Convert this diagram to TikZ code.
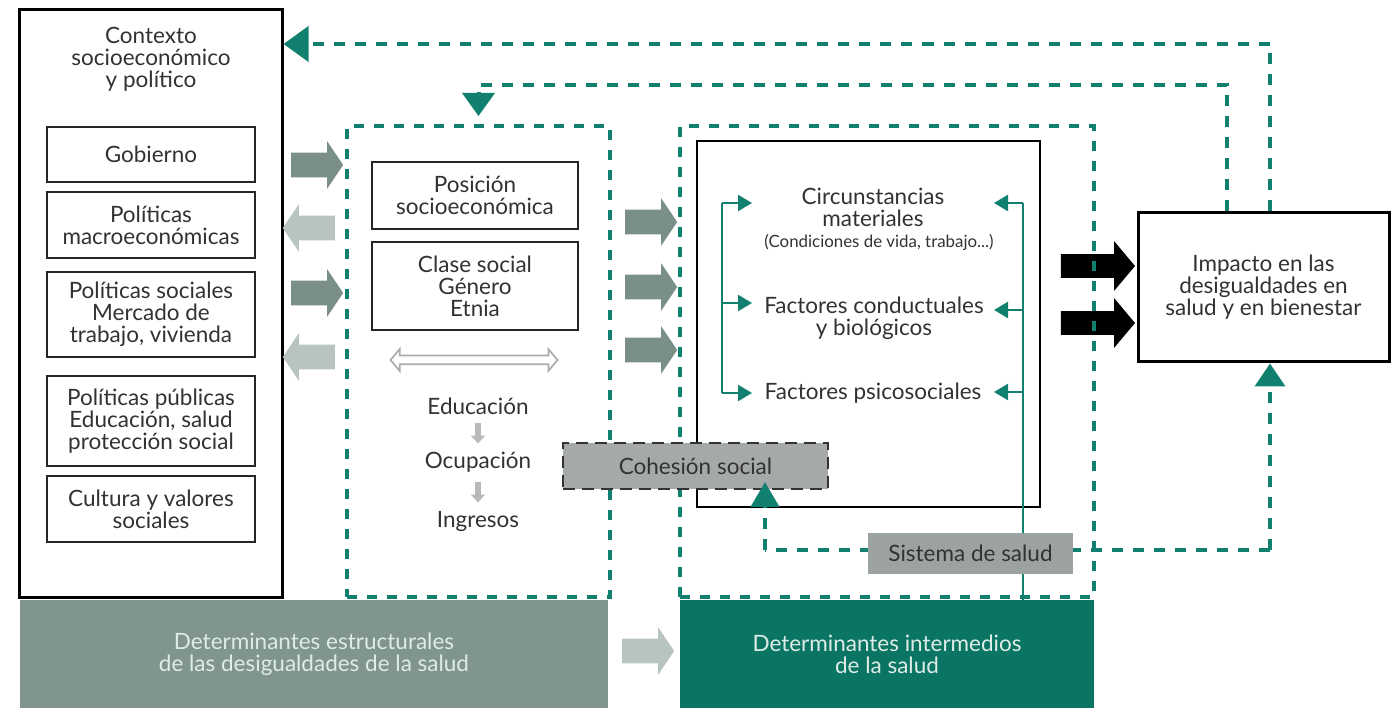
\documentclass[tikz,border=0pt]{standalone}
\usepackage{fontspec}
\setmainfont{Lato}
\usetikzlibrary{arrows.meta, shapes.arrows, positioning, calc}
\definecolor{TealLine}{RGB}{18, 128, 110}
\definecolor{TealFill}{RGB}{11, 117, 99}
\definecolor{GrayFill}{RGB}{128, 149, 142}
\definecolor{DarkArrow}{RGB}{122, 143, 136}
\definecolor{LightArrow}{RGB}{183, 196, 192}
\definecolor{BoxGray}{RGB}{165, 170, 168}
\definecolor{SysGray}{RGB}{155, 162, 159}
\definecolor{TextGray}{RGB}{50, 50, 50}
\definecolor{LightText}{RGB}{222, 236, 231}

\begin{document}
\begin{tikzpicture}[x=0.2mm, y=-0.2mm,
    txt/.style={font=\fontsize{12.8}{12.5}\selectfont, text=TextGray, align=center, inner sep=0pt},
    smallbox/.style={txt, draw=black!85, line width=0.4mm, minimum width=41.4mm},
    tealbox/.style={draw=TealLine, line width=0.8mm, dash pattern=on 2mm off 2mm},
    loopln/.style={draw=TealLine, line width=0.8mm, dash pattern=on 2.2mm off 2mm},
    tline/.style={draw=TealLine, line width=0.45mm},
    blockarr/.style={single arrow, fill=#1, inner xsep=0pt, inner ysep=2.4mm,
        minimum height=10.4mm, minimum width=9.2mm, single arrow head extend=2.3mm,
        single arrow tip angle=112, single arrow head indent=0pt},
    bigarr/.style={single arrow, fill=black, inner xsep=0pt, inner ysep=2.3mm,
        minimum height=14.8mm, minimum width=9.8mm, single arrow head extend=2.6mm,
        single arrow tip angle=100, single arrow head indent=0pt},
    smallarr/.style={draw=gray!55, line width=1.1mm, -{Triangle[length=1.6mm,width=2.8mm]}},
    ]
\useasboundingbox (0,0) rectangle (1391,710);

% bloques inferiores
\node[txt, fill=GrayFill, text=LightText, minimum width=117.6mm, minimum height=21.6mm] (estrlbl) at (314,654) {Determinantes estructurales\\de las desigualdades de la salud};
\node[txt, fill=TealFill, text=LightText, minimum width=82.8mm, minimum height=21.6mm] (interlbl) at (887,654) {Determinantes intermedios\\de la salud};
\node[blockarr=LightArrow] (abot) at (644,651) {};

% contexto
\node[draw=black, line width=0.6mm, minimum width=52.4mm, minimum height=117.4mm] (ctx) at (151,303.5) {};
\node[txt] (ctxt) at (151,59) {Contexto\\socioeconómico\\y político};
\node[smallbox, minimum height=11mm] (gob) at (151,154.5) {Gobierno};
\node[smallbox, minimum height=13.2mm] (macro) at (151,225) {Políticas\\macroeconómicas};
\node[smallbox, minimum height=17mm] (psoc) at (151,314.5) {Políticas sociales\\Mercado de\\trabajo, vivienda};
\node[smallbox, minimum height=18mm] (ppub) at (151,421) {Políticas públicas\\Educación, salud\\protección social};
\node[smallbox, minimum height=13.2mm] (cult) at (151,509) {Cultura y valores\\sociales};

% flechas contexto - estructurales
\node[blockarr=DarkArrow] (a1) at (313,165) {};
\node[blockarr=LightArrow, shape border rotate=180] (a2) at (313,228) {};
\node[blockarr=DarkArrow] (a3) at (313,293) {};
\node[blockarr=LightArrow, shape border rotate=180] (a4) at (313,357) {};

% flechas negras
\node[bigarr] (b1) at (1093,266) {};
\node[bigarr] (b2) at (1093,323) {};

% determinantes estructurales
\node[tealbox, minimum width=52.6mm, minimum height=94.2mm] (estr) at (478.5,361.5) {};
\node[smallbox, minimum width=41.2mm, minimum height=13.4mm] (pos) at (475,195.5) {Posición\\socioeconómica};
\node[smallbox, minimum width=41.2mm, minimum height=17.6mm] (clase) at (475,286) {Clase social\\Género\\Etnia};
\node[double arrow, draw=gray!65, fill=white, line width=0.35mm, inner xsep=0pt, inner ysep=0.7mm,
    minimum height=33.4mm, double arrow head extend=1.3mm, double arrow tip angle=100] (dbl) at (474,360) {};
\node[txt] (educ) at (478,406) {Educación};
\node[txt] (ocup) at (478,462) {Ocupación};
\node[txt] (ingr) at (478,521) {Ingresos};
\draw[smallarr] ($(educ.south)+(0,8)$) -- ($(ocup.north)+(0,-8)$);
\draw[smallarr] ($(ocup.south)+(0,10)$) -- ($(ingr.north)+(0,-8)$);

% flechas estructurales - intermedios
\node[blockarr=DarkArrow] (m1) at (647,222) {};
\node[blockarr=DarkArrow] (m2) at (647,287) {};
\node[blockarr=DarkArrow] (m3) at (647,350) {};

% determinantes intermedios
\node[tealbox, minimum width=82.8mm, minimum height=94.2mm] (inter) at (887,361.5) {};
\node[draw=black, line width=0.5mm, minimum width=68.6mm, minimum height=73.2mm] (circbox) at (868.5,324) {};
\node[txt] (circ) at (873,207) {Circunstancias\\materiales};
\node[txt, font=\fontsize{9.6}{10}\selectfont] (cond) at (879,242) {(Condiciones de vida, trabajo...)};
\node[txt] (conduc) at (874,318) {Factores conductuales\\y biológicos};
\node[txt] (psico) at (873,393) {Factores psicosociales};

\coordinate (brL) at (722,0);
\coordinate (tipL) at (752,0);
\coordinate (brR) at (1023,0);
\coordinate (tipR) at (994,0);
\draw[tline] (brL |- 0,203) -- (brL |- 0,393);
\foreach \y in {203,303,393}
  \draw[tline, -{Triangle[length=2.8mm,width=3.2mm]}] (brL |- 0,\y) -- (tipL |- 0,\y);
\draw[tline] (brR |- 0,203) -- (brR |- interlbl.north);
\foreach \y in {203,310,392}
  \draw[tline, -{Triangle[length=2.8mm,width=3.2mm]}] (brR |- 0,\y) -- (tipR |- 0,\y);

% impacto
\node[txt, draw=black, line width=0.6mm, minimum width=50.2mm, minimum height=29.8mm] (imp) at (1263.5,287.5) {Impacto en las\\desigualdades en\\salud y en bienestar};

% lazos de retroalimentacion
\coordinate (l1) at (1270,44);
\coordinate (l2) at (1227,85);
\coordinate (l3) at (1270,550);
\coordinate (c1) at (765,482);
\draw[loopln, -{Triangle[length=5mm,width=7mm]}] (imp.north -| l1) -- (l1) -- (ctx.east |- l1);
\draw[loopln, -{Triangle[length=4.6mm,width=6.4mm]}, shorten >=1.6mm] (imp.north -| l2) -- (l2) -| (estr.north);

% cohesion y sistema de salud
\node[txt, fill=BoxGray, draw=black!80, line width=0.4mm, dash pattern=on 2.4mm off 1.4mm,
    minimum width=53mm, minimum height=9.2mm] (coh) at (695.5,466) {Cohesión social};
\draw[loopln] (l3) -- (c1 |- l3);
\draw[loopln, -{Triangle[length=5mm,width=5.6mm]}] (c1 |- l3) -- (c1);
\draw[loopln, -{Triangle[length=4.6mm,width=6mm]}] (l3) -- (imp.south -| l3);
\node[txt, fill=SysGray, minimum width=41mm, minimum height=8.2mm] (sist) at (970.5,553.5) {Sistema de salud};
\end{tikzpicture}
\end{document}
